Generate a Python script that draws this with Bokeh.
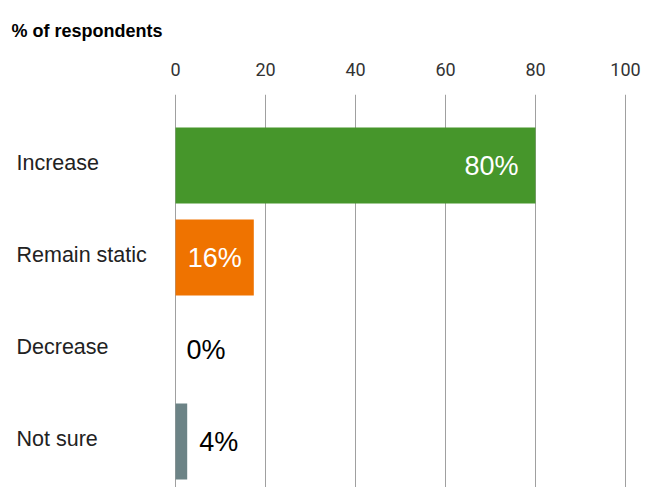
from bokeh.plotting import figure
from bokeh.models import Range1d, FixedTicker, ColumnDataSource
from bokeh.embed import file_html
from bokeh.resources import INLINE
from bokeh.core.properties import value

# ---- data ----
categories = ["Increase", "Remain static", "Decrease", "Not sure"]
bar_values = [80, 17.4, 0, 2.6]
value_labels = ["80%", "16%", "0%", "4%"]
bar_colors = ["#46962b", "#ef7300", "#ffffff", "#6c8386"]
x_ticks = [0, 20, 40, 60, 80, 100]
title_text = "% of respondents"

# ---- styles ----
label_align = ["right", "right", "left", "left"]
label_offset = [-17, -12, 11, 12]
label_color = ["#ffffff", "#ffffff", "#000000", "#000000"]

W, H = 643, 487
TOP = 94               # frame top
px_per_unit = 4.5
zero_px = 175          # x=0 position inside the figure
band_px = 92
first_center_px = 71   # below frame top

x_start = -zero_px / px_per_unit
x_end = x_start + W / px_per_unit
frame_h = H - TOP
y_top = -first_center_px / band_px
y_bottom = y_top + frame_h / band_px

idx = list(range(len(categories)))
src = ColumnDataSource(dict(
    y=idx, right=bar_values, color=bar_colors, cat=categories,
    lab=value_labels, align=label_align, off=label_offset, lcol=label_color,
    catx=[(16 - zero_px) / px_per_unit] * len(idx),
))

p = figure(width=W, height=H, output_backend="svg", toolbar_location=None,
           x_range=Range1d(x_start, x_end), y_range=Range1d(y_bottom, y_top),
           x_axis_location="above", min_border_left=0, min_border_right=0,
           min_border_bottom=0, min_border_top=0, title=title_text)

p.outline_line_color = None
p.background_fill_color = "white"
p.border_fill_color = "white"

p.title.text_font = "Liberation Sans"
p.title.text_font_size = "18px"
p.title.text_font_style = "bold"
p.title.text_color = "#000000"
p.title.offset = 11
p.title.standoff = 37

p.yaxis.visible = False
p.ygrid.visible = False

ax = p.xaxis[0]
ax.ticker = FixedTicker(ticks=x_ticks)
ax.axis_line_color = None
ax.major_tick_line_color = None
ax.minor_tick_line_color = None
ax.major_tick_out = 0
ax.major_tick_in = 0
ax.major_label_standoff = 19
ax.major_label_text_font = "Roboto"
ax.major_label_text_font_size = "18px"
ax.major_label_text_color = "#333333"

p.xgrid.ticker = FixedTicker(ticks=x_ticks)
p.xgrid.grid_line_color = "#a0a0a0"
p.xgrid.grid_line_width = 1

p.hbar(y="y", left=0, right="right", height=76 / band_px, fill_color="color",
       line_color=None, source=src)

p.text(x="right", y="y", text="lab", text_align="align", x_offset="off",
       text_baseline="middle", text_color="lcol", text_font=value("Liberation Sans"),
       text_font_size="27px", source=src)

p.text(x="catx", y="y", text="cat", text_align="left", text_baseline="middle",
       y_offset=-3, text_color="#222222", text_font=value("Liberation Sans"),
       text_font_size="21.5px", source=src)

open("out.html", "w").write(file_html(p, INLINE))
